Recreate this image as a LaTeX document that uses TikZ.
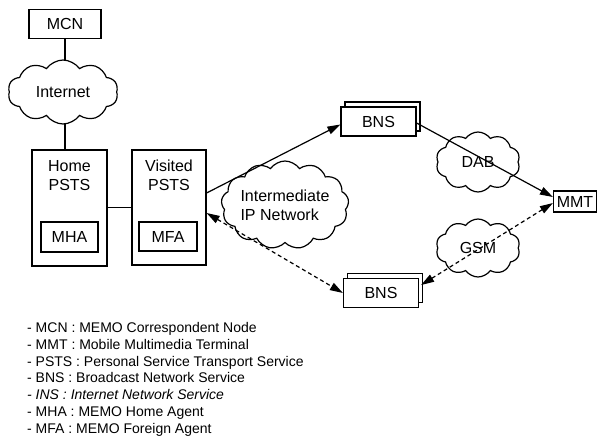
\documentclass[tikz,border=0pt]{standalone}
\usepackage{fontspec}
\setmainfont{Liberation Sans}
\usetikzlibrary{shapes.symbols,arrows.meta,shadows,backgrounds}
\begin{document}
\begin{tikzpicture}[x=1pt,y=-1pt,
  every node/.style={font=\fontsize{16}{19}\selectfont},
  box/.style={draw, line width=1.2pt, inner sep=0pt, fill=white},
  bnsbox/.style={box, minimum width=75pt, minimum height=29pt,
    copy shadow={shadow xshift=4pt, shadow yshift=5pt}},
  cloudy/.style={draw, cloud, cloud puffs=12, cloud puff arc=110, cloud ignores aspect,
    inner sep=0pt, line width=1.2pt, fill=white},
  conn/.style={line width=1.2pt},
  tip/.style={-{Triangle[length=13pt,width=8pt]}},
  dtip/.style={{Triangle[length=13pt,width=8pt]}-{Triangle[length=13pt,width=8pt]}},
  dashedconn/.style={line width=1.2pt, dash pattern=on 4pt off 3pt},
]
\useasboundingbox (0,0) rectangle (597,439);
% left column
\node[box, minimum width=72pt, minimum height=29pt] (mcn) at (65,24) {MCN};
\node[box, minimum width=75pt, minimum height=116pt] (home) at (69.5,208) {};
\node[align=center, inner sep=0pt] (homelbl) at (69.5,175.5) {Home\\PSTS};
\node[box, minimum width=57pt, minimum height=30pt] (mha) at (69.5,237) {MHA};
\node[box, minimum width=74pt, minimum height=115pt] (visited) at (169,207.5) {};
\node[align=center, inner sep=0pt] (vislbl) at (169,175.5) {Visited\\PSTS};
\node[box, minimum width=58pt, minimum height=29pt] (mfa) at (168,236.5) {MFA};
\begin{pgfonlayer}{background}
\draw[conn] (mcn.south) -- (mcn.south |- home.north);
\end{pgfonlayer}
\node[cloudy, cloud puffs=10, minimum width=110pt, minimum height=64pt] (inet) at (63,92) {Internet};
\draw[conn] (home.east |- visited.east) -- (visited.west);
% clouds
\node[cloudy, cloud puffs=13, minimum width=126pt, minimum height=88pt, align=left] (ipnet) at (285,205) {Intermediate\\IP Network};
\node[cloudy, cloud puffs=10, minimum width=84pt, minimum height=60pt] (dab) at (478,162) {DAB};
\node[cloudy, cloud puffs=10, minimum width=84pt, minimum height=58pt] (gsm) at (478,248) {GSM};
% BNS and MMT
\node[bnsbox] (bns1) at (378.5,121.5) {BNS};
\node[bnsbox] (bns2) at (381,293) {BNS};
\node[box, minimum width=43pt, minimum height=21pt] (mmt) at (575,201.5) {MMT};
% connectors
\draw[conn, tip] ([yshift=14.5pt]visited.east) -- ([yshift=-3pt]bns1.west);
\draw[conn, tip] ([yshift=-1.5pt]bns1.east) -- ([yshift=4.5pt]mmt.west);
\draw[dashedconn, dtip] ([yshift=-5.5pt]visited.east) -- (bns2.west);
\draw[dashedconn, dtip] ([xshift=2pt,yshift=8pt]bns2.east) -- ([yshift=-1.5pt]mmt.west);
% legend
\node[anchor=north west, align=left, inner sep=0pt, font=\fontsize{14}{16.7}\selectfont] (legend) at (27,322.5) {%
- MCN : MEMO Correspondent Node\\
- MMT : Mobile Multimedia Terminal\\
- PSTS : Personal Service Transport Service\\
- BNS : Broadcast Network Service\\
{\itshape - INS : Internet Network Service}\\
- MHA : MEMO Home Agent\\
- MFA : MEMO Foreign Agent};
\end{tikzpicture}
\end{document}
